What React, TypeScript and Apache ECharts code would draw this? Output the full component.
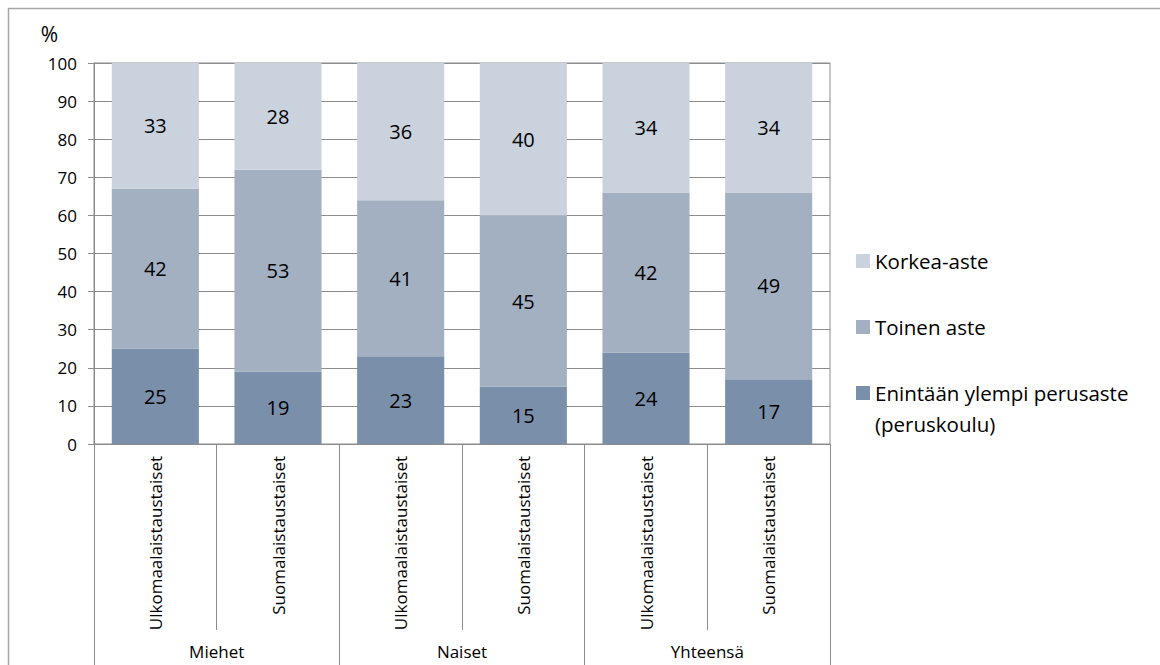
import React, { useEffect, useRef } from "react";
import * as echarts from "echarts";

const categories = [
  "Ulkomaalaistaustaiset",
  "Suomalaistaustaiset",
  "Ulkomaalaistaustaiset",
  "Suomalaistaustaiset",
  "Ulkomaalaistaustaiset",
  "Suomalaistaustaiset",
];
const groups = ["Miehet", "Naiset", "Yhteensä"];
const seriesNames = ["Enintään ylempi perusaste (peruskoulu)", "Toinen aste", "Korkea-aste"];
const perusaste = [25, 19, 23, 15, 24, 17];
const toinenAste = [42, 53, 41, 45, 42, 49];
const korkeaAste = [33, 28, 36, 40, 34, 34];
const yTicks = [0, 10, 20, 30, 40, 50, 60, 70, 80, 90, 100];

const colors = ["#7A8FA9", "#A2B0C1", "#CAD2DE"];
const FONT = "'Open Sans', Lato, sans-serif";
const LINE = "#8C8C8C";

export default function App() {
  const ref = useRef<HTMLDivElement>(null);
  useEffect(() => {
    if (!ref.current) return;
    const chart = echarts.init(ref.current, null, { renderer: "svg" });
    const values = [perusaste, toinenAste, korkeaAste];
    const series = seriesNames.map((name, i) => ({
      name,
      type: "bar",
      stack: "total",
      xAxisIndex: 0,
      barCategoryGap: "29%",
      data: values[i],
      itemStyle: { color: colors[i] },
      label: {
        show: true,
        position: "inside",
        color: "#000",
        fontSize: 20,
        fontFamily: FONT,
      },
    }));
    const legendText = { fontSize: 20.5, color: "#000", fontFamily: FONT, lineHeight: 31 };
    chart.setOption({
      animation: false,
      textStyle: { fontFamily: FONT },
      grid: {
        left: 94,
        right: 330,
        top: 63,
        bottom: 221,
        show: true,
        borderColor: LINE,
        borderWidth: 1,
        backgroundColor: "transparent",
      },
      legend: [
        {
          orient: "vertical",
          left: 856,
          top: 245.5,
          padding: 0,
          itemWidth: 14,
          itemHeight: 14,
          itemGap: 35,
          icon: "rect",
          data: [seriesNames[2], seriesNames[1]],
          textStyle: legendText,
          selectedMode: false,
        },
        {
          orient: "vertical",
          left: 856,
          top: 346.5,
          padding: 0,
          itemWidth: 14,
          itemHeight: 14,
          icon: "rect",
          data: [seriesNames[0]],
          formatter: (n: string) => "\n" + n.replace(" (", "\n("),
          textStyle: legendText,
          selectedMode: false,
        },
      ],
      xAxis: [
        {
          type: "category",
          data: categories,
          gridIndex: 0,
          position: "bottom",
          axisLine: { show: true, lineStyle: { color: LINE } },
          axisTick: { show: true, length: 186, lineStyle: { color: LINE } },
          axisLabel: {
            rotate: 90,
            fontSize: 17,
            color: "#000",
            fontFamily: FONT,
            margin: 12,
            interval: 0,
          },
        },
        {
          type: "category",
          data: groups,
          gridIndex: 0,
          position: "bottom",
          axisLine: { show: false },
          axisTick: { show: true, length: 240, lineStyle: { color: LINE } },
          axisLabel: { fontSize: 17, color: "#000", fontFamily: FONT, margin: 199, interval: 0 },
        },
      ],
      yAxis: {
        type: "value",
        min: 0,
        max: 100,
        interval: 10,
        name: "%",
        nameLocation: "end",
        nameGap: 19,
        nameTextStyle: { fontSize: 21, color: "#000", fontFamily: FONT, align: "right", padding: [0, 36, 0, 0] },
        axisLine: { show: true, lineStyle: { color: LINE } },
        axisTick: { show: true, length: 6, lineStyle: { color: LINE } },
        splitLine: { show: true, lineStyle: { color: LINE } },
        axisLabel: {
          fontSize: 17,
          color: "#000",
          fontFamily: FONT,
          margin: 17,
          formatter: (v: number) => (yTicks.includes(v) ? String(v) : ""),
        },
      },
      graphic: [
        {
          type: "rect",
          shape: { x: 8.5, y: 8.5, width: 1300, height: 800 },
          style: { fill: "none", stroke: "#A6A6A6", lineWidth: 1.5 },
          silent: true,
        },
      ],
      series,
    });
    return () => chart.dispose();
  }, []);
  return (
    <div
      ref={ref}
      style={{ position: "absolute", left: 0, top: 0, width: 1160, height: 665 }}
    />
  );
}
